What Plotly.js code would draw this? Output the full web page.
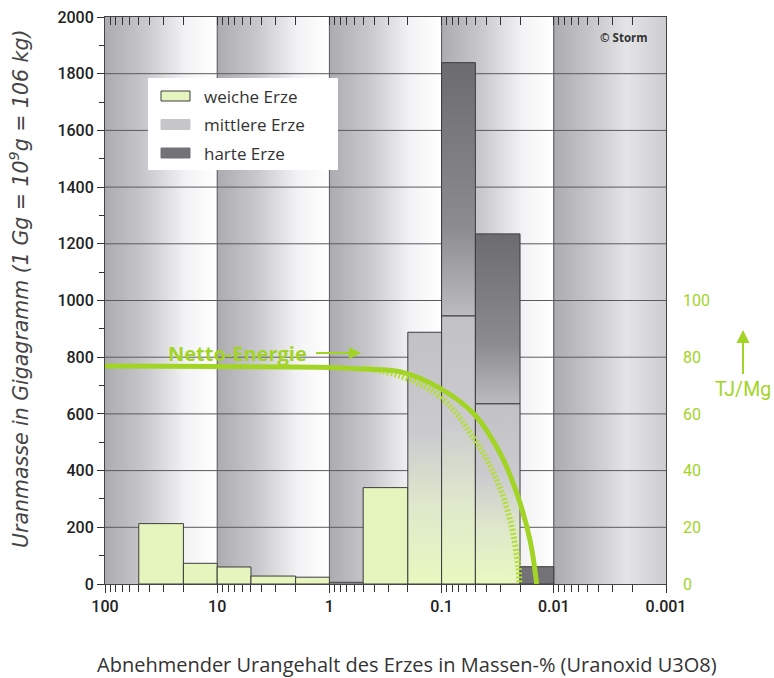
<!DOCTYPE html>
<html><head><meta charset="utf-8">
<script src="https://cdn.plot.ly/plotly-3.0.1.min.js"></script>
<style>body{margin:0;background:#fff}#chart{width:774px;height:678px}</style>
</head><body><div id="chart"></div>
<script>
// ---- data ----
const binEdges = [50, 20, 10, 5, 2, 1, 0.5, 0.2, 0.1, 0.05, 0.02, 0.01];
const weiche   = [213, 73, 60, 28, 24, 0, 340, 0, 0, 0, 0];
const mittlere = [0, 0, 0, 0, 0, 6, 0, 888, 946, 636, 0];
const harte    = [0, 0, 0, 0, 0, 0, 0, 0, 893, 599, 61];
const seriesNames = ['weiche Erze', 'mittlere Erze', 'harte Erze'];

const energyX  = [100, 10, 1, 0.5, 0.235, 0.103, 0.0504, 0.0302, 0.0214, 0.0163, 0.0142];
const energyY  = [76.9, 76.7, 76.4, 75.8, 74.9, 69.0, 59.6, 46.2, 32.1, 15.5, 0];
const energy2X = [0.5, 0.235, 0.103, 0.0504, 0.0323, 0.0245, 0.0207, 0.0203];
const energy2Y = [76.2, 73.4, 66.1, 50.8, 36.7, 22.6, 6.1, 0];

const decades    = [100, 10, 1, 0.1, 0.01, 0.001];
const xTickText  = ['100', '10', '1', '0.1', '0.01', '0.001'];
const yTicks     = [0, 200, 400, 600, 800, 1000, 1200, 1400, 1600, 1800, 2000];
const rightTicks = [0, 20, 40, 60, 80, 100];

// ---- styling ----
const GREEN = '#a2d425';
const yMax = 2000, yRightMax = 200;
const W = 774, H = 678, L = 105, R = 108, T = 17, B = 94;
const pw = W - L - R, ph = H - T - B;
const px = x => (x - L) / pw, py = y => (H - B - y) / ph;
const lg = v => (v === null ? null : Math.log10(v));   // x axis is logarithmic (log10 scale)
const xMaxL = lg(decades[0]), xMinL = lg(decades[decades.length - 1]);

// background: one gray-to-white gradient per decade, painted on a canvas and used as plot image
const bandStops = [[0, '#acacb0'], [0.35, '#c8c8cc'], [0.72, '#f3f3f5'], [1, '#ffffff']];
const lastBandStops = [[0, '#acacb0'], [0.3, '#c4c4c8'], [0.65, '#e4e4e7'], [1, '#cdcdd1']];
const cv = document.createElement('canvas');
cv.width = pw; cv.height = ph;
const ctx = cv.getContext('2d');
for (let i = 0; i < decades.length - 1; i++) {
  const a = (xMaxL - lg(decades[i])) / (xMaxL - xMinL) * pw;
  const b = (xMaxL - lg(decades[i + 1])) / (xMaxL - xMinL) * pw;
  const g = ctx.createLinearGradient(a, 0, b, 0);
  (i === decades.length - 2 ? lastBandStops : bandStops).forEach(s => g.addColorStop(s[0], s[1]));
  ctx.fillStyle = g;
  ctx.fillRect(Math.floor(a), 0, Math.ceil(b - a) + 1, ph);
}
const bgImage = cv.toDataURL('image/png');

const traces = [];
// grid lines
const gx = [], gy = [];
yTicks.slice(1, -1).forEach(v => { gx.push(xMaxL, xMinL, null); gy.push(v, v, null); });
decades.slice(1, -1).forEach(d => { gx.push(lg(d), lg(d), null); gy.push(0, yMax, null); });
traces.push({type: 'scatter', x: gx, y: gy, mode: 'lines', line: {color: '#5a5a5e', width: 1},
  hoverinfo: 'skip', showlegend: false});

// bars
const plainFill = ['#e6f5bd', '#c6c6ca', '#737377'];
const mixScale = [[0, '#e9f8c0'], [0.3, '#dfe9cb'], [0.6, '#cbcbcf'], [1, '#c2c2c6']];
const hardScale = [[0, '#bcbcc0'], [0.35, '#8c8c90'], [1, '#6c6c70']];
const gradientGrade = 0.2;
const cats = [weiche, mittlere, harte];
for (let i = 0; i < binEdges.length - 1; i++) {
  const hi = lg(binEdges[i]), lo = lg(binEdges[i + 1]);
  let base = 0;
  cats.forEach((arr, c) => {
    const v = arr[i];
    if (!v) return;
    const top = base + v;
    const tr = {type: 'scatter', x: [hi, hi, lo, lo, hi], y: [base, top, top, base, base],
      mode: 'lines', fill: 'toself', line: {color: '#3c3c3e', width: 1},
      fillcolor: plainFill[c], name: seriesNames[c], showlegend: false, hoverinfo: 'y+name'};
    if (c === 1 && binEdges[i] <= gradientGrade) tr.fillgradient = {type: 'vertical', start: base, stop: top, colorscale: mixScale};
    if (c === 2 && base > 0) tr.fillgradient = {type: 'vertical', start: base, stop: top, colorscale: hardScale};
    traces.push(tr);
    base = top;
  });
}

// energy curves
traces.push({type: 'scatter', x: energy2X.map(lg), y: energy2Y, yaxis: 'y2', mode: 'lines',
  line: {color: '#b4de3a', width: 6, dash: '2px,2px', shape: 'spline'}, showlegend: false, name: 'Netto-Energie (2)'});
traces.push({type: 'scatter', x: energyX.map(lg), y: energyY, yaxis: 'y2', mode: 'lines',
  line: {color: GREEN, width: 5, shape: 'spline'}, showlegend: false, name: 'Netto-Energie'});
// top axis carrier
traces.push({type: 'scatter', x: [null], y: [null], xaxis: 'x2', showlegend: false, hoverinfo: 'skip'});

// minor ticks (2..9 within every decade)
const minorX = [];
decades.slice(0, -1).forEach(d => { for (let k = 2; k <= 9; k++) minorX.push(lg(k * d / 10)); });
const minorY = yTicks.slice(0, -1).map(v => v + 100);

const tickFont = {family: 'Roboto, sans-serif', size: 16, color: '#222', weight: 500};
const xCommon = {type: 'linear', range: [xMaxL, xMinL],
  tickmode: 'array', tickvals: decades.map(lg), ticktext: xTickText, showgrid: false, zeroline: false,
  showline: true, linecolor: '#444', linewidth: 1, tickcolor: '#333', tickwidth: 1, ticklen: 8};

// legend (box, swatches, labels)
const legendShapes = [{type: 'rect', xref: 'paper', yref: 'paper', x0: px(148), x1: px(338), y0: py(170), y1: py(78),
  fillcolor: '#ffffff', line: {width: 0}, layer: 'above'}];
const legendAnn = [];
const swatchBorder = ['#3c3c3e', '#c6c6ca', '#737377'];
seriesNames.forEach((n, c) => {
  const rowY = 96 + c * 28.5;
  legendShapes.push({type: 'rect', xref: 'paper', yref: 'paper', x0: px(161), x1: px(190),
    y0: py(rowY + 5), y1: py(rowY - 5), fillcolor: plainFill[c], line: {color: swatchBorder[c], width: 1}, layer: 'above'});
  legendAnn.push({xref: 'paper', yref: 'paper', x: px(202), y: py(rowY), text: n, showarrow: false,
    xanchor: 'left', yanchor: 'middle', font: {family: 'Open Sans, sans-serif', size: 17, color: '#333'}});
});

const layout = {
  width: W, height: H, margin: {l: L, r: R, t: T, b: B},
  paper_bgcolor: '#fff', plot_bgcolor: '#fff',
  font: {family: 'Open Sans, sans-serif', color: '#333'},
  showlegend: false,
  images: [{source: bgImage, xref: 'paper', yref: 'paper', x: 0, y: 1, sizex: 1, sizey: 1,
    sizing: 'stretch', xanchor: 'left', yanchor: 'top', layer: 'below'}],
  xaxis: Object.assign({}, xCommon, {ticks: 'outside', tickfont: tickFont,
    minor: {tickmode: 'array', tickvals: minorX, ticks: 'outside', ticklen: 7, tickcolor: '#333', showgrid: false}}),
  xaxis2: Object.assign({}, xCommon, {overlaying: 'x', side: 'top', anchor: 'y', ticks: 'inside', showticklabels: false,
    minor: {tickmode: 'array', tickvals: minorX, ticks: 'inside', ticklen: 8, tickcolor: '#333', showgrid: false}}),
  yaxis: {range: [0, yMax], tickmode: 'array', tickvals: yTicks, ticks: 'outside', ticklen: 7, tickcolor: '#333',
    showline: true, mirror: true, linecolor: '#444', showgrid: false, zeroline: false, tickfont: tickFont,
    minor: {tickmode: 'array', tickvals: minorY, ticks: 'outside', ticklen: 5, tickcolor: '#333', showgrid: false}},
  yaxis2: {overlaying: 'y', side: 'right', range: [0, yRightMax], tickmode: 'array', tickvals: rightTicks,
    ticks: '', showline: false, showgrid: false, zeroline: false, ticklabelstandoff: 16,
    tickfont: {family: 'Roboto, sans-serif', size: 16, color: GREEN}},
  shapes: legendShapes,
  annotations: legendAnn.concat([
    {xref: 'paper', yref: 'paper', x: px(407), y: py(664), text: 'Abnehmender Urangehalt des Erzes in Massen-% (Uranoxid U3O8)',
      showarrow: false, font: {size: 20, color: '#333'}, xanchor: 'center', yanchor: 'middle'},
    {xref: 'paper', yref: 'paper', x: px(19), y: py(289), text: 'Uranmasse in Gigagramm (1 Gg = 10<sup>9</sup>g = 106 kg)',
      textangle: -90, showarrow: false, font: {family: 'DejaVu Sans, sans-serif', size: 20.5, color: '#444', style: 'italic'},
      xanchor: 'center', yanchor: 'middle'},
    {xref: 'paper', yref: 'paper', x: px(624), y: py(37), text: '<b>© Storm</b>', showarrow: false,
      font: {size: 11.5, color: '#333'}, xanchor: 'center', yanchor: 'middle'},
    {xref: 'paper', yref: 'paper', x: px(361), y: py(353), axref: 'pixel', ayref: 'pixel', ax: -124, ay: 0,
      text: '<b>Netto-Energie</b>', showarrow: true, arrowhead: 2, arrowsize: 1.2, arrowwidth: 2, arrowcolor: GREEN,
      startstandoff: 8, font: {size: 20, color: GREEN}},
    {xref: 'paper', yref: 'paper', x: px(743), y: py(330), ax: 0, ay: 59, text: 'TJ/Mg', showarrow: true,
      arrowhead: 2, arrowsize: 1.3, arrowwidth: 2, arrowcolor: GREEN, startstandoff: 2,
      font: {family: 'Roboto, sans-serif', size: 19.5, color: GREEN}}
  ])
};
Plotly.newPlot('chart', traces, layout, {displayModeBar: false, staticPlot: true});
</script></body></html>
